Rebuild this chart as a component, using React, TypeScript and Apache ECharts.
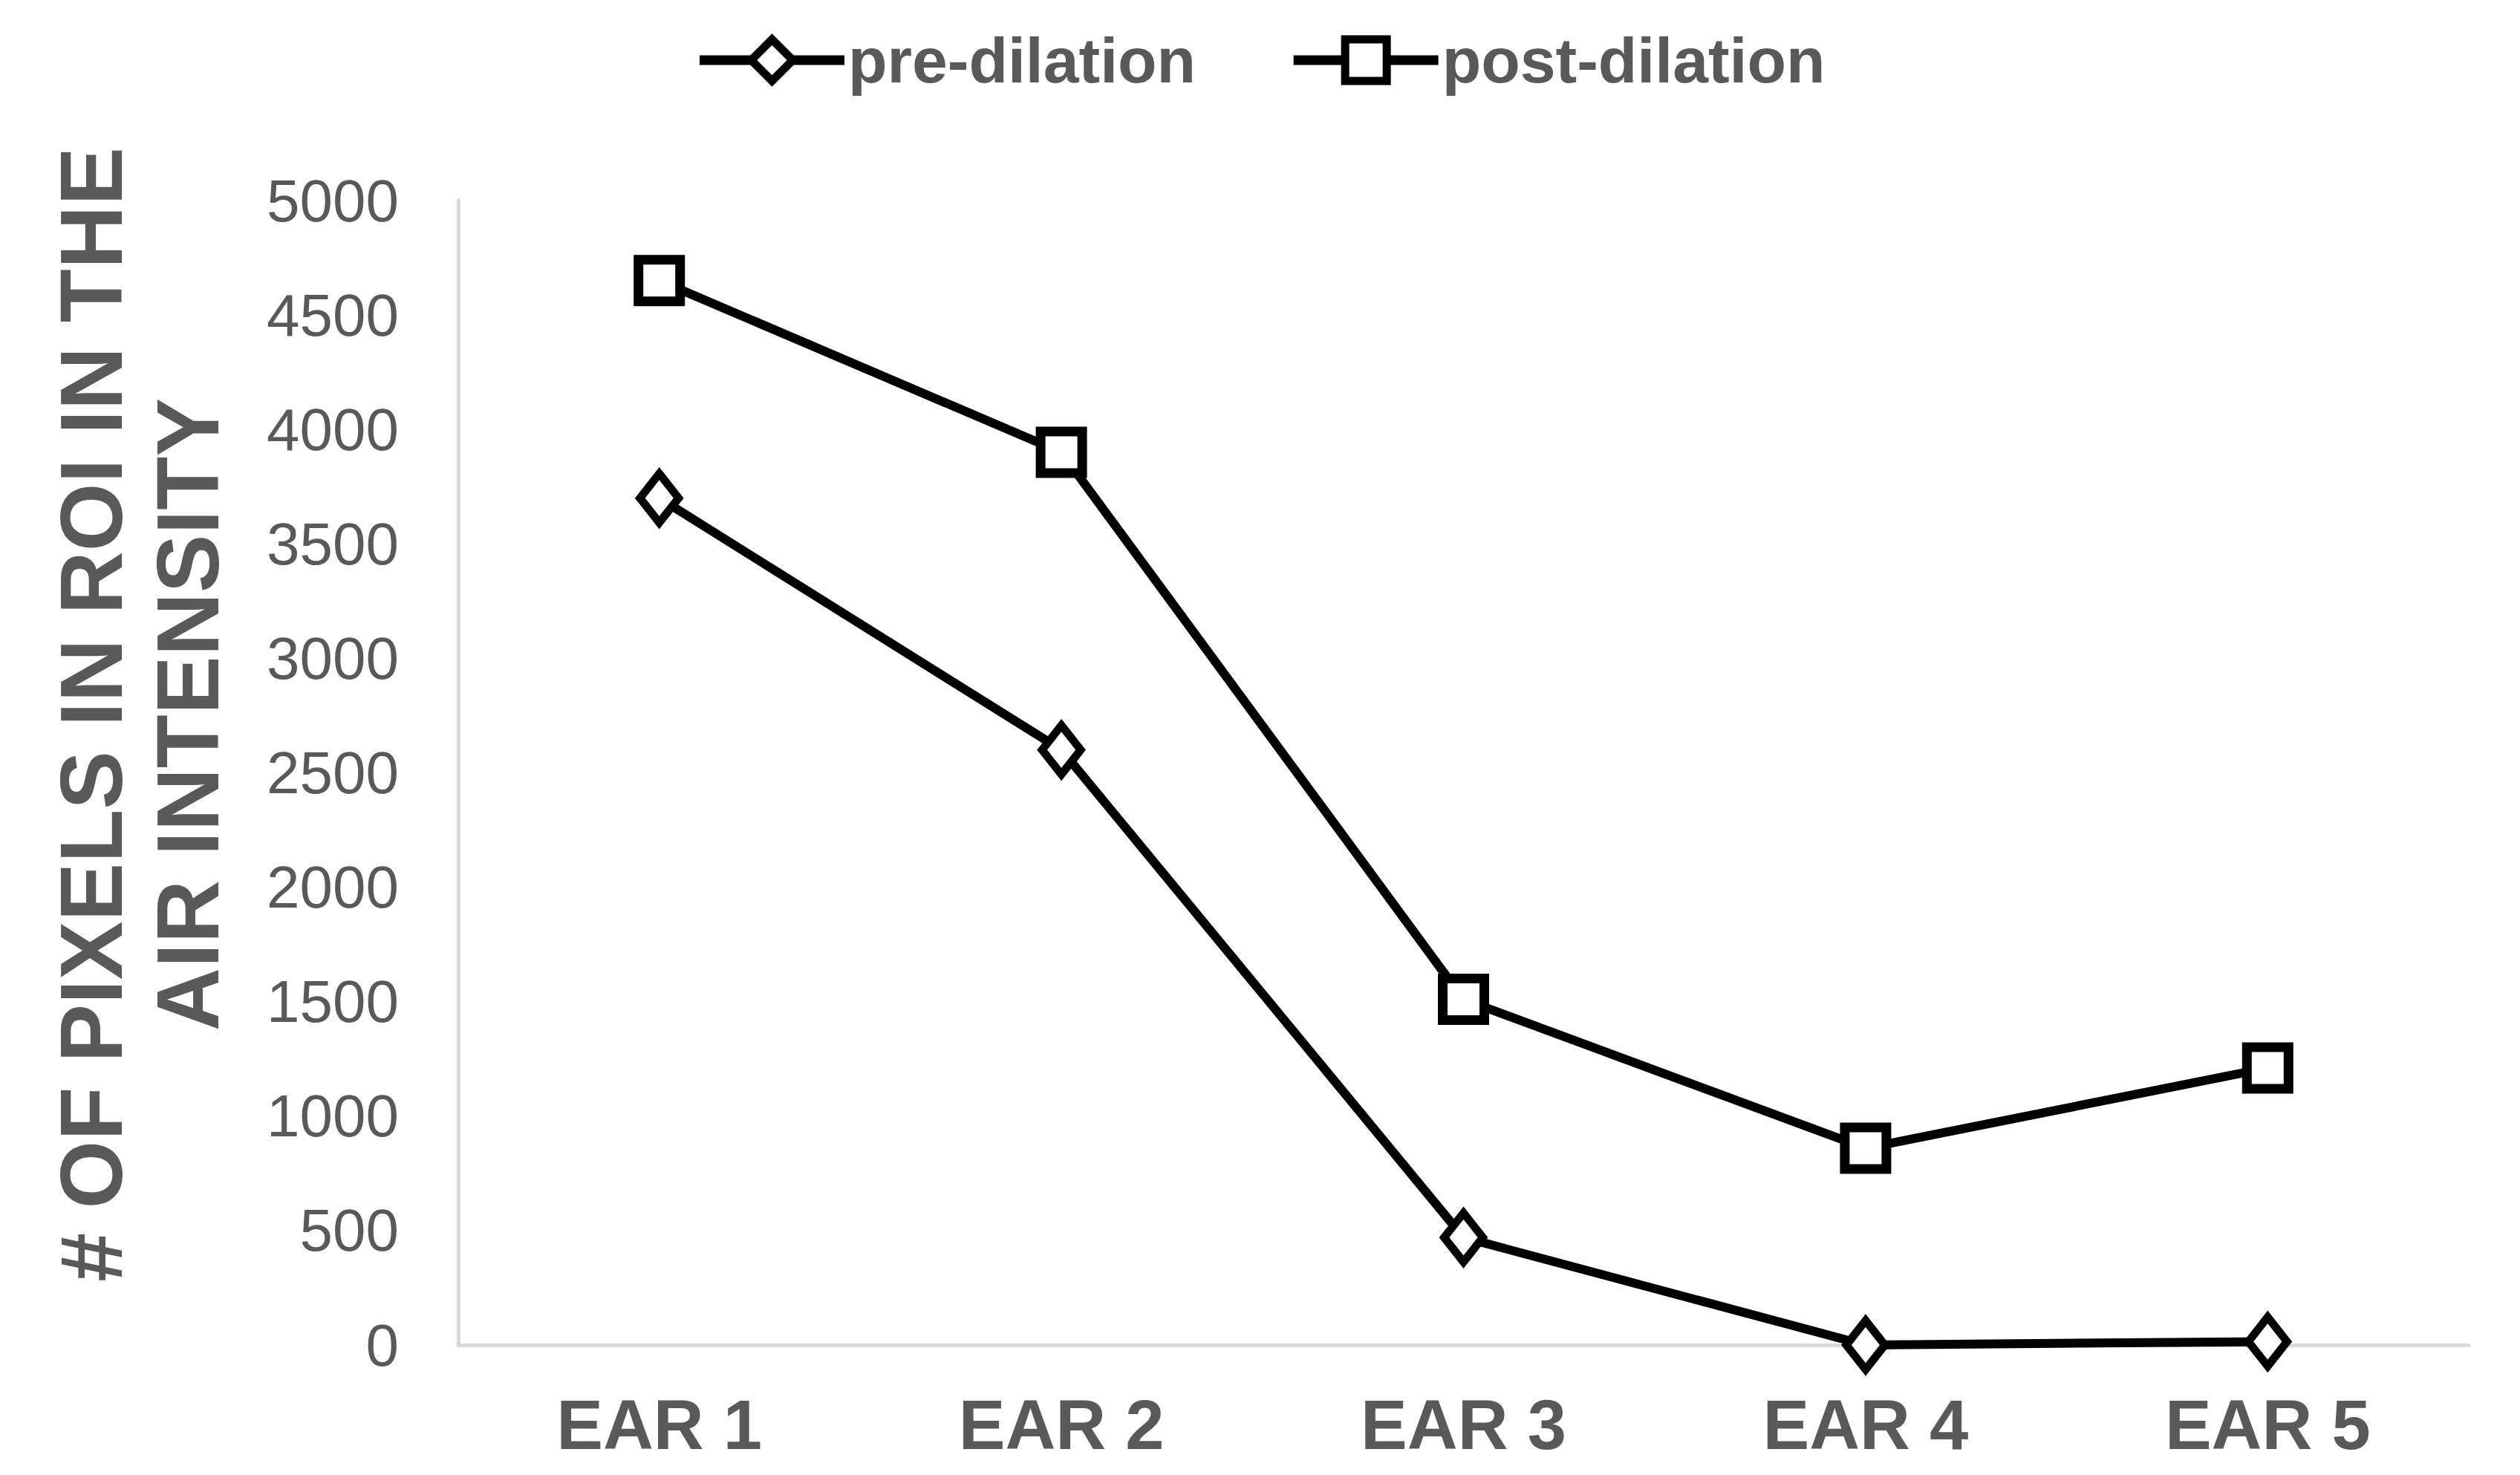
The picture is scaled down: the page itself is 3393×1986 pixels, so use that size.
import React, { useEffect, useRef } from "react";
import * as echarts from "echarts";

const categories = ["EAR 1", "EAR 2", "EAR 3", "EAR 4", "EAR 5"];
const preDilation = [3700, 2600, 470, 0, 15];
const postDilation = [4650, 3900, 1510, 860, 1210];
const seriesNames = ["pre-dilation", "post-dilation"];
const yTitle = "# OF PIXELS IN ROI IN THE\nAIR INTENSITY";

const FONT = "'Liberation Sans', Arial, sans-serif";
const GRAY = "#595959";

export default function App() {
  const ref = useRef<HTMLDivElement>(null);
  useEffect(() => {
    document.body.style.margin = "0";
    if (!ref.current) return;
    const chart = echarts.init(ref.current, undefined, { renderer: "svg" });
    chart.setOption({
      animation: false,
      backgroundColor: "#ffffff",
      legend: {
        top: 33,
        left: "center",
        itemWidth: 195,
        itemHeight: 70,
        itemGap: 125,
        textStyle: { fontSize: 86, fontWeight: "bold", color: GRAY, fontFamily: FONT, padding: [0, 0, 0, 0] },
        itemStyle: { borderWidth: 11, borderColor: "#000", color: "#fff" },
        lineStyle: { width: 13, color: "#000" },
        data: seriesNames,
      },
      grid: { left: 617, right: 69, top: 270, bottom: 175, containLabel: false },
      xAxis: {
        type: "category",
        data: categories,
        boundaryGap: true,
        axisLine: { show: true, lineStyle: { color: "#d9d9d9", width: 5 } },
        axisTick: { show: false },
        splitLine: { show: false },
        axisLabel: { fontSize: 94, fontWeight: "bold", color: GRAY, fontFamily: FONT, margin: 60 },
      },
      yAxis: {
        type: "value",
        min: 0,
        max: 5000,
        interval: 500,
        axisLine: { show: true, lineStyle: { color: "#d9d9d9", width: 5 } },
        axisTick: { show: false },
        splitLine: { show: false },
        axisLabel: {
          fontSize: 80,
          color: GRAY,
          fontFamily: FONT,
          margin: 80,
          formatter: (v: number) => String(v),
        },
      },
      graphic: [
        {
          type: "text",
          x: 188,
          y: 962,
          rotation: Math.PI / 2,
          style: {
            text: yTitle,
            fontSize: 118,
            fontWeight: "bold",
            fontFamily: FONT,
            fill: GRAY,
            align: "center",
            verticalAlign: "middle",
            lineHeight: 130,
          },
        },
      ],
      series: [
        {
          name: seriesNames[0],
          type: "line",
          data: preDilation,
          symbol: "diamond",
          symbolSize: [52, 66],
          lineStyle: { color: "#000", width: 12 },
          itemStyle: { color: "#fff", borderColor: "#000", borderWidth: 11 },
          z: 3,
        },
        {
          name: seriesNames[1],
          type: "line",
          data: postDilation,
          symbol: "rect",
          symbolSize: 56,
          lineStyle: { color: "#000", width: 12 },
          itemStyle: { color: "#fff", borderColor: "#000", borderWidth: 13 },
          z: 3,
        },
      ],
    });
    return () => chart.dispose();
  }, []);
  return <div ref={ref} style={{ width: 3393, height: 1986 }} />;
}
